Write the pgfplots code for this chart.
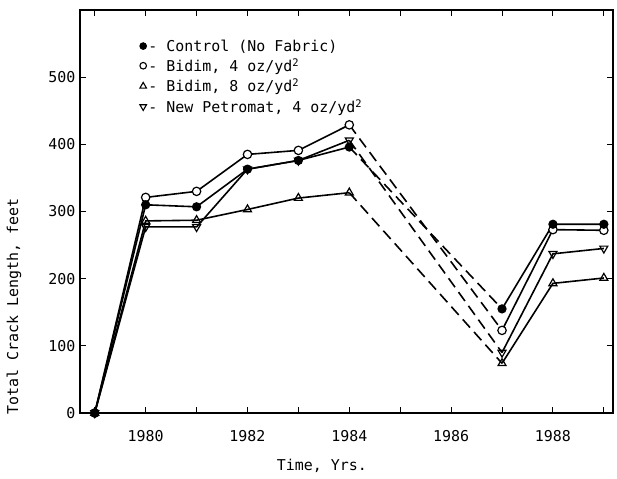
\documentclass[border=0pt]{standalone}
\usepackage{pgfplots}
\pgfplotsset{compat=1.18}
\usepackage{fontspec}
\setmainfont{DejaVu Sans Mono}
\newcommand\lblfont{\fontsize{15}{17}\selectfont}

\begin{document}
\begin{tikzpicture}
\begin{axis}[
  name=ax,
  width=533bp, height=403bp, scale only axis,
  xmin=1978.71, xmax=1989.18, ymin=0, ymax=600,
  xtick={1980,1982,...,1988}, minor xtick={1979,1981,...,1989},
  ytick={0,100,...,500},
  tick align=inside, major tick length=6bp, minor tick length=6bp,
  tick style={line width=1bp, black},
  axis line style={line width=1.3bp},
  /pgf/number format/assume math mode=true,
  /pgf/number format/set thousands separator={},
  tick label style={font=\lblfont},
  xticklabel style={yshift=-14bp},
  yticklabel style={xshift=-1bp},
  xlabel={Time, Yrs.},
  ylabel={Total Crack Length, feet},
  label style={font=\lblfont},
  xlabel style={at={(axis description cs:0.454,-0.13)}, anchor=center},
  ylabel style={at={(axis description cs:-0.124,0.265)}, anchor=center},
  every axis plot/.append style={line width=1.6bp, black},
  mark size=4.2bp,
  legend style={at={(axis description cs:0.112,0.932)}, anchor=north west,
    draw=none, fill=none, font=\lblfont, row sep=2bp,
    cells={anchor=west}, inner sep=0pt},
  legend image code/.code={\draw[#1] plot coordinates {(0.08cm,0cm)};},
  legend cell align=left,
]
% legend entries
\addlegendimage{only marks, mark=*, mark size=3.3bp, line width=1bp, fill=black}
\addlegendentry{- Control (No Fabric)}
\addlegendimage{only marks, mark=o, mark size=3.3bp, line width=1.1bp}
\addlegendentry{- Bidim, 4 oz/yd\textsuperscript{2}}
\addlegendimage{only marks, mark=triangle, mark size=3.8bp, line width=1.1bp}
\addlegendentry{- Bidim, 8 oz/yd\textsuperscript{2}}
\addlegendimage{only marks, mark=triangle, mark size=3.8bp, line width=1.1bp, mark options={rotate=180}}
\addlegendentry{- New Petromat, 4 oz/yd\textsuperscript{2}}

% dashed links between 1984 and 1987 (no data in between)
\pgfplotsset{gap/.style={no marks, line width=1.6bp, dash pattern=on 11bp off 6bp, forget plot}}
\addplot[gap] coordinates {(1984,396) (1987,155)};
\addplot[gap] coordinates {(1984,429) (1987,123)};
\addplot[gap] coordinates {(1984,328) (1987,74)};
\addplot[gap] coordinates {(1984,406) (1987,90)};

% New Petromat, 4 oz/yd^2
\pgfplotsset{pet/.style={mark=triangle, mark size=4.6bp, mark options={rotate=180, fill=white, solid, line width=1.2bp}, forget plot}}
\addplot[pet] coordinates {(1979,0) (1980,277) (1981,277) (1982,363) (1983,376) (1984,406)};
\addplot[pet] coordinates {(1987,90) (1988,237) (1989,245)};

% Bidim, 8 oz/yd^2
\pgfplotsset{b8/.style={mark=triangle, mark size=4.6bp, mark options={fill=white, solid, line width=1.2bp}, forget plot}}
\addplot[b8] coordinates {(1979,0) (1980,286) (1981,287) (1982,303) (1983,320) (1984,328)};
\addplot[b8] coordinates {(1987,74) (1988,193) (1989,201)};

% Bidim, 4 oz/yd^2
\pgfplotsset{b4/.style={mark=*, mark options={fill=white, solid, line width=1.2bp}, forget plot}}
\addplot[b4] coordinates {(1979,0) (1980,321) (1981,330) (1982,385) (1983,391) (1984,429)};
\addplot[b4] coordinates {(1987,123) (1988,273) (1989,272)};

% Control (no fabric)
\pgfplotsset{ctl/.style={mark=*, mark size=3.8bp, mark options={fill=black, solid}, forget plot}}
\addplot[ctl] coordinates {(1979,0) (1980,310) (1981,307) (1982,363) (1983,376) (1984,396)};
\addplot[ctl] coordinates {(1987,155) (1988,281) (1989,281)};

\coordinate (ll) at (rel axis cs:0,0);
\coordinate (ur) at (rel axis cs:1,1);
\end{axis}
\path ([shift={(-80bp,-66bp)}]ll) rectangle ([shift={(4bp,10bp)}]ur);
\end{tikzpicture}
\end{document}
